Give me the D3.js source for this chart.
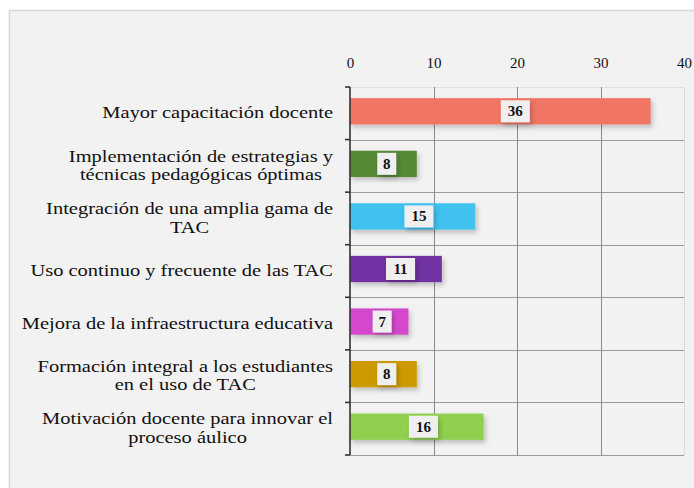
<!DOCTYPE html>
<html>
<head>
<meta charset="utf-8">
<script src="https://cdn.jsdelivr.net/npm/d3@7"></script>
<style>
  body { margin: 0; background: #fff; }
  svg { display: block; }
  .cat { font-family: "Liberation Serif", "Times New Roman", serif; font-size: 17.5px; fill: #111; }
  .tick text { font-family: "Liberation Serif", serif; font-size: 15px; fill: #111; }
  .val { font-family: "Liberation Serif", serif; font-size: 15px; font-weight: bold; fill: #111; }
</style>
</head>
<body>
<svg width="694" height="488"></svg>
<script>
var categories = [
  ["Mayor capacitación docente"],
  ["Implementación de estrategias y", "técnicas pedagógicas óptimas"],
  ["Integración de una amplia gama de", "TAC"],
  ["Uso continuo y frecuente de las TAC"],
  ["Mejora de la infraestructura educativa"],
  ["Formación integral a los estudiantes", "en el uso de TAC"],
  ["Motivación docente para innovar el", "proceso áulico"]
];
var values = [36, 8, 15, 11, 7, 8, 16];
var colors = ["#f07565", "#578a34", "#3fc1ee", "#7232a3", "#d448cc", "#cc9a06", "#8fd14f"];
var xTicks = [0, 10, 20, 30, 40];

drawChart();

function drawChart() {
  var svg = d3.select('svg');

  // chart frame
  svg.append('rect')
    .attr('x', 9.5).attr('y', 10.5)
    .attr('width', 700).attr('height', 490)
    .attr('fill', '#f2f2f2')
    .attr('stroke', '#d6d6d6')
    .attr('stroke-width', 1.5);

  var pLeft = 350, pRight = 684, pTop = 87, pBottom = 455;

  var x = d3.scaleLinear().domain([0, 40]).range([pLeft, pRight]);
  var band = d3.scaleBand().domain(d3.range(categories.length)).range([pTop, pBottom]);
  var y = d3.scaleBand()
            .domain(d3.range(categories.length))
            .range([pTop, pBottom])
            .paddingInner(0.5)
            .paddingOuter(0.25);

  var f = svg.append('defs').append('filter').attr('id', 'shadow')
    .attr('x', '-20%').attr('y', '-30%').attr('width', '140%').attr('height', '170%');
  f.append('feDropShadow').attr('dx', 2).attr('dy', 3).attr('stdDeviation', 2.5)
    .attr('flood-color', '#000').attr('flood-opacity', 0.22);

  // grid
  svg.append('g').selectAll('line')
    .data(d3.range(categories.length + 1))
    .enter()
    .append('line')
      .attr('x1', pLeft).attr('x2', pRight)
      .attr('y1', d => Math.round(pTop + d * band.step()) + 0.5)
      .attr('y2', d => Math.round(pTop + d * band.step()) + 0.5)
      .attr('stroke', d => d === 0 ? '#e0e0e0' : '#9a9a9a');
  svg.append('g').selectAll('line')
    .data(xTicks.slice(1))
    .enter()
    .append('line')
      .attr('x1', d => Math.round(x(d)) + 0.5).attr('x2', d => Math.round(x(d)) + 0.5)
      .attr('y1', pTop).attr('y2', pBottom)
      .attr('stroke', d => d === 40 ? '#d8d8d8' : '#8a8a8a');

  // bars
  svg.selectAll('rect.bar')
    .data(values)
    .enter()
    .append('rect')
      .attr('class', 'bar')
      .attr('x', x(0))
      .attr('y', (d, i) => y(i) - 2)
      .attr('width', d => x(d) - x(0))
      .attr('height', y.bandwidth())
      .attr('fill', (d, i) => colors[i])
      .attr('filter', 'url(#shadow)');

  // top axis
  var axis = svg.append('g')
    .attr('transform', 'translate(0,' + (pTop - 19) + ')')
    .call(d3.axisTop(x).tickValues(xTicks).tickSize(0).tickPadding(0));
  axis.select('.domain').remove();

  // left axis
  svg.append('line')
    .attr('x1', pLeft).attr('x2', pLeft)
    .attr('y1', pTop).attr('y2', pBottom)
    .attr('stroke', '#333').attr('stroke-width', 1.6);
  svg.append('g').selectAll('line')
    .data(d3.range(categories.length + 1))
    .enter()
    .append('line')
      .attr('x1', pLeft - 5).attr('x2', pLeft)
      .attr('y1', d => pTop + d * band.step())
      .attr('y2', d => pTop + d * band.step())
      .attr('stroke', '#333').attr('stroke-width', 1.6);

  // category labels: right-aligned block, lines centred within block
  categories.forEach(function(lines, i) {
    var cy = band(i) + band.bandwidth() / 2 - 1;
    var lh = 18.5;
    var g = svg.append('g')
      .attr('transform', 'translate(333,0) scale(1.17,1)');
    var texts = g.selectAll('text')
      .data(lines)
      .enter()
      .append('text')
        .attr('class', 'cat')
        .attr('text-anchor', 'middle')
        .attr('y', (d, j) => cy + (j - (lines.length - 1) / 2) * lh + 6)
        .text(d => d);
    var w = d3.max(texts.nodes(), n => n.getComputedTextLength());
    texts.attr('x', -w / 2);
  });

  // value labels
  var labels = svg.selectAll('g.lab')
    .data(values)
    .enter()
    .append('g')
      .attr('class', 'lab')
      .attr('transform', (d, i) => 'translate(' + x(d * 0.55) + ',' + (y(i) - 2 + y.bandwidth() / 2) + ')');
  labels.append('rect')
    .attr('x', d => d < 10 ? -9.5 : -14.5)
    .attr('y', -11)
    .attr('width', d => d < 10 ? 19 : 29)
    .attr('height', 22)
    .attr('fill', '#efefef')
    .attr('filter', 'url(#shadow)');
  labels.append('text')
    .attr('class', 'val')
    .attr('text-anchor', 'middle')
    .attr('y', 5)
    .text(d => d);
}
</script>
</body>
</html>
